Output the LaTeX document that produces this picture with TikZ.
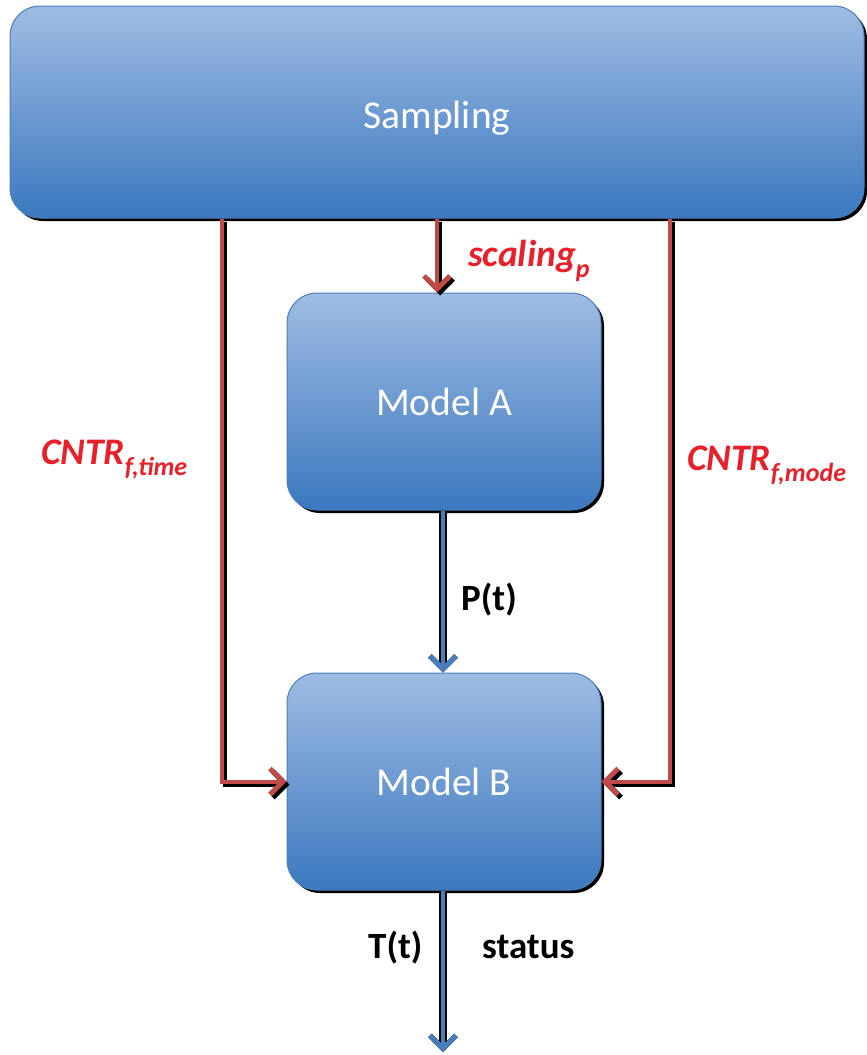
\documentclass[tikz,border=0pt]{standalone}
\usepackage{fontspec}
\setmainfont{Carlito}
\usetikzlibrary{arrows.meta,shadows}
\definecolor{boxtop}{HTML}{9EBCE3}
\definecolor{boxbot}{HTML}{3B78BF}
\definecolor{boxline}{HTML}{4A7EBB}
\definecolor{redline}{HTML}{BE4B48}
\definecolor{redtext}{HTML}{E8202A}
\definecolor{blueline}{HTML}{4A7EBB}
\newcommand{\redlab}[2]{\textbf{\textit{#1\raisebox{-0.3em}{\fontsize{26}{26}\selectfont #2}}}}
\begin{document}
\begin{tikzpicture}[x=1pt,y=-1pt,
  box/.style={rounded corners=30pt, top color=boxtop, bottom color=boxbot,
    draw=boxline, line width=1pt, text=white,
    font=\fontsize{39.5}{42}\selectfont, inner sep=0pt,
    general shadow={fill=black, shadow xshift=3pt, shadow yshift=-3pt}},
  tipx/.style={-{Straight Barb[length=13pt,width=26pt,line width=5pt]}},
  redarrow/.style={tipx, draw=redline, line width=4pt,
    preaction={draw=black, line width=4pt, transform canvas={xshift=3pt,yshift=-3pt}}},
  bluearrow/.style={tipx, draw=blueline, line width=4.5pt,
    preaction={draw=black, line width=8pt}},
  redlbl/.style={text=redtext, font=\fontsize{37.5}{40}\selectfont, inner sep=0pt, anchor=base west},
  blklbl/.style={text=black, font=\bfseries\fontsize{37}{40}\selectfont, inner sep=0pt, anchor=base west}
]
\useasboundingbox (0,0) rectangle (867,1055);

\node[box, minimum width=854pt, minimum height=212pt] (samp) at (437,112) {\smash{\raisebox{-16pt}{Sampling}}};
\node[box, minimum width=314pt, minimum height=217pt] (ma) at (444,401.5) {Model A};
\node[box, minimum width=314pt, minimum height=217pt] (mb) at (444,781.5) {Model B};

\coordinate (lx) at (222,0);
\coordinate (mx) at (437,0);
\coordinate (rx) at (670,0);
\coordinate (bx) at (443,0);
\coordinate (out) at (443,1052);

\draw[redarrow] (samp.south -| lx) |- (mb.west);
\draw[redarrow] (samp.south -| rx) |- (mb.east);
\draw[redarrow] (samp.south -| mx) -- (ma.north -| mx);
\draw[bluearrow] (ma.south -| bx) -- (mb.north -| bx);
\draw[bluearrow] (mb.south -| bx) -- (out);

\node[redlbl] (lscal) at (468,266) {\redlab{scaling}{p}};
\node[redlbl] (ltime) at (41,464) {\redlab{CNTR}{f,time}};
\node[redlbl] (lmode) at (687,470) {\redlab{CNTR}{f,mode}};
\node[blklbl] (lp) at (461,610) {P(t)};
\node[blklbl] (lt) at (368,958) {T(t)};
\node[blklbl] (ls) at (482,958) {status};
\end{tikzpicture}
\end{document}
